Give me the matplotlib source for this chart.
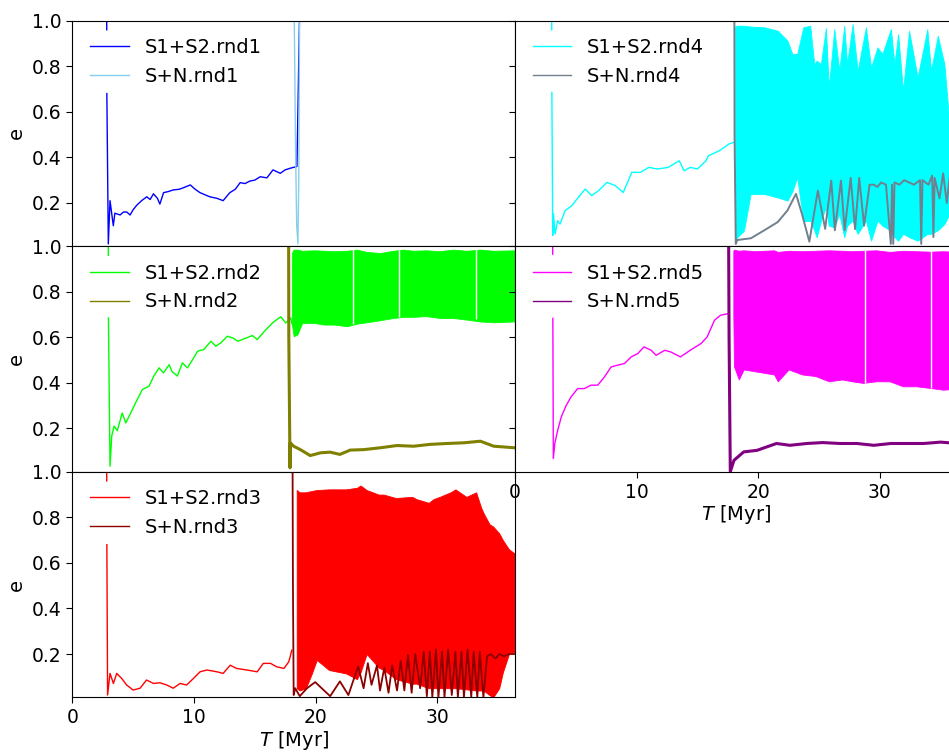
import numpy as np
import matplotlib.pyplot as plt

nan = np.nan

# ---- rnd1 ----
t1 = [2.82, 2.83, 2.83, 2.84, 2.96, 3.1, 3.37, 3.5, 3.93, 4.2, 4.48, 4.75, 5.0, 5.3, 5.7, 6.12, 6.4, 6.67,
      7.0, 7.2, 7.5, 7.9, 8.3, 8.8, 9.2, 9.7, 10.1, 10.5, 11.3, 11.9, 12.4, 12.95, 13.4, 13.8, 14.2,
      14.6, 15.0, 15.45, 16.0, 16.5, 17.1, 17.5, 17.9, 18.47, 18.74]
e1 = [1.2, 0.96, nan, 0.68, 0.02, 0.21, 0.10, 0.155, 0.147, 0.16, 0.16, 0.147, 0.17, 0.19, 0.21, 0.227,
      0.215, 0.24, 0.22, 0.195, 0.245, 0.25, 0.257, 0.26, 0.268, 0.279, 0.26, 0.245, 0.227, 0.22, 0.21,
      0.245, 0.26, 0.289, 0.285, 0.296, 0.3, 0.315, 0.31, 0.345, 0.33, 0.345, 0.352, 0.36, 1.2]
t1n = [18.2, 18.27, 18.35, 18.45, 18.55, 18.62, 18.7]
e1n = [1.2, 0.9, 0.45, 0.1, 0.02, 0.3, 1.2]

# ---- rnd2 ----
t2 = [2.95, 2.96, 2.96, 2.97, 3.1, 3.24, 3.43, 3.7, 4.1, 4.4, 4.8, 5.2, 5.76, 6.3, 6.7, 7.13, 7.5, 7.96,
      8.2, 8.64, 9.05, 9.47, 9.9, 10.3, 10.8, 11.4, 11.8, 12.2, 12.75, 13.2, 13.6, 14.3, 14.8, 15.2,
      15.8, 16.2, 16.6, 17.15, 17.55, 17.97, 18.05]
e2 = [1.2, 0.96, nan, 0.685, 0.034, 0.166, 0.21, 0.19, 0.268, 0.224, 0.268, 0.312, 0.371, 0.385, 0.43,
      0.466, 0.444, 0.48, 0.45, 0.43, 0.488, 0.466, 0.503, 0.539, 0.546, 0.583, 0.561, 0.575, 0.605,
      0.597, 0.583, 0.597, 0.608, 0.59, 0.627, 0.649, 0.67, 0.69, 0.663, 0.685, 0.66]
t2b = [18.05, 18.2, 18.5, 18.9, 19.9, 20.7, 21.5, 22.6, 23.4, 24.2, 25.3, 26.4, 27.2, 28.06, 29.1,
       30.2, 31.3, 32.4, 33.5, 34.65, 36.4]
lo2b = [0.66, 0.605, 0.612, 0.663, 0.663, 0.656, 0.656, 0.649, 0.66, 0.666, 0.675, 0.685, 0.69, 0.69,
        0.693, 0.685, 0.685, 0.678, 0.67, 0.666, 0.67]
hi2b = [0.97, 0.985, 0.985, 0.98, 0.982, 0.98, 0.978, 0.98, 0.985, 0.975, 0.97, 0.98, 0.985, 0.98,
        0.982, 0.978, 0.985, 0.98, 0.985, 0.98, 0.982]
gap2_t = [23.1, 26.9, 33.2]
gap2_lo = [0.66, 0.69, 0.68]
t2n = [17.78, 17.8, 17.9, 17.92, 18.2, 18.75, 19.56, 20.4, 21.2, 22.0, 22.85, 23.95, 25.3, 26.7, 28.06,
       29.4, 30.8, 32.2, 33.55, 34.65, 36.4]
e2n = [1.2, 0.6, 0.027, 0.137, 0.122, 0.107, 0.081, 0.093, 0.096, 0.086, 0.105, 0.107, 0.115, 0.125,
       0.122, 0.13, 0.134, 0.137, 0.144, 0.122, 0.115]

# ---- rnd3 ----
t3 = [2.82, 2.83, 2.83, 2.84, 2.9, 3.1, 3.38, 3.65, 4.06, 4.47, 5.0, 5.57, 6.1, 6.67, 7.2, 7.77, 8.3,
      8.86, 9.4, 9.96, 10.5, 11.06, 11.9, 12.4, 12.98, 13.5, 14.35, 15.2, 15.7, 16.3, 16.8, 17.4, 17.8, 18.05]
e3 = [1.2, 0.96, nan, 0.68, 0.02, 0.115, 0.071, 0.115, 0.093, 0.064, 0.042, 0.05, 0.086, 0.071, 0.074,
      0.064, 0.05, 0.071, 0.064, 0.093, 0.122, 0.13, 0.122, 0.115, 0.151, 0.137, 0.13, 0.122, 0.159,
      0.159, 0.144, 0.137, 0.166, 0.217]
t3b = [18.45, 18.7, 19.2, 19.7, 20.1, 21.1, 22.5, 23.4, 23.7, 24.2, 25.2, 25.6, 26.6, 27.95, 28.3,
       29.3, 29.7, 30.2, 31.1, 31.5, 32.4, 33.2, 33.6, 33.8, 34.3, 34.6, 35.1, 35.4, 35.9, 36.4]
hi3b = [0.92, 0.91, 0.91, 0.916, 0.92, 0.923, 0.923, 0.93, 0.94, 0.92, 0.90, 0.90, 0.885, 0.89, 0.88,
        0.864, 0.88, 0.89, 0.91, 0.923, 0.89, 0.91, 0.845, 0.82, 0.77, 0.76, 0.73, 0.70, 0.66, 0.64]
lo3b = [0.05, 0.04, 0.05, 0.115, 0.174, 0.13, 0.115, 0.09, 0.12, 0.2, 0.14, 0.13, 0.09, 0.07, 0.07,
        0.05, 0.05, 0.05, 0.05, 0.05, 0.045, 0.04, 0.04, 0.04, 0.02, 0.01, 0.05, 0.12, 0.2, 0.21]
t3n = [18.1, 18.14, 18.2, 18.33, 18.7, 19.3, 19.97, 20.6, 21.2, 22.0, 22.7, 23.5, 23.95, 24.3, 24.6,
       25.05, 25.3, 25.65, 26.0, 26.3, 26.7, 27.0, 27.3, 27.6, 27.9, 28.2, 28.6, 28.9, 29.15, 29.4, 29.6,
       29.9, 30.1, 30.4, 30.6, 30.9, 31.2, 31.5, 31.7, 32.0, 32.2, 32.5, 32.8, 33.0, 33.3, 33.5, 33.8,
       34.1, 34.4, 34.8, 35.1, 35.5, 35.9, 36.4]
e3n = [1.2, 0.5, 0.02, 0.05, 0.015, 0.05, 0.077, 0.045, 0.015, 0.08, 0.02, 0.146, 0.05, 0.16, 0.065,
       0.15, 0.04, 0.14, 0.03, 0.15, 0.04, 0.17, 0.04, 0.195, 0.03, 0.2, 0.05, 0.21, 0.015, 0.21, 0.01,
       0.22, 0.01, 0.21, 0.01, 0.22, 0.02, 0.21, 0.01, 0.21, 0.01, 0.22, 0.01, 0.21, 0.01, 0.21, 0.01,
       0.19, 0.2, 0.18, 0.2, 0.19, 0.2, 0.2]

# ---- rnd4 ----
t4 = [3.0, 3.02, 3.02, 3.03, 3.1, 3.16, 3.3, 3.5, 3.7, 4.12, 4.67, 5.2, 5.77, 6.3, 6.87, 7.56, 8.24,
      8.9, 9.6, 10.3, 11.0, 11.7, 12.6, 13.5, 13.9, 14.4, 15.0, 15.7, 15.9, 16.8, 17.6, 18.0]
e4 = [1.2, 0.96, nan, 0.685, 0.057, 0.151, 0.064, 0.122, 0.107, 0.166, 0.188, 0.224, 0.261, 0.232,
      0.254, 0.29, 0.276, 0.246, 0.334, 0.334, 0.356, 0.349, 0.356, 0.385, 0.341, 0.356, 0.349, 0.385,
      0.407, 0.429, 0.459, 0.466]
t4b = [18.1, 18.27, 18.82, 19.37, 20.5, 21.6, 22.4, 22.8, 23.2, 23.7, 24.27, 24.6, 24.8, 25.15, 25.56,
       25.8, 26.25, 26.66, 27.07, 27.3, 27.76, 28.17, 28.85, 29.27, 29.8, 30.2, 30.9, 31.2, 31.5, 31.9,
       32.4, 33.1, 33.9, 34.2, 34.76, 35.3, 35.7, 36.4]
hi4b = [0.975, 0.978, 0.978, 0.974, 0.971, 0.956, 0.912, 0.854, 0.854, 0.971, 0.978, 0.81, 0.824, 0.81,
        0.968, 0.707, 0.963, 0.78, 0.978, 0.81, 0.985, 0.78, 0.971, 0.795, 0.883, 0.854, 0.963, 0.81,
        0.941, 0.693, 0.956, 0.751, 0.963, 0.78, 0.934, 0.81, 0.56, 0.85]
lo4b = [0.03, 0.049, 0.078, 0.239, 0.239, 0.224, 0.21, 0.25, 0.312, 0.12, 0.122, 0.08, 0.049, 0.12,
        0.181, 0.1, 0.093, 0.151, 0.049, 0.1, 0.122, 0.064, 0.122, 0.034, 0.122, 0.1, 0.078, 0.05, 0.034,
        0.064, 0.05, 0.034, 0.064, 0.064, 0.08, 0.107, 0.151, 0.15]
t4n = [18.03, 18.05, 18.15, 18.27, 19.4, 20.5, 21.6, 22.4, 23.1, 23.6, 24.2, 24.9, 25.5, 26.0, 26.3,
       26.8, 27.1, 27.6, 27.96, 28.3, 28.7, 29.15, 29.5, 29.8, 30.1, 30.5, 30.9, 31.0, 31.1, 31.2, 31.6,
       32.0, 32.4, 32.8, 33.3, 33.4, 33.5, 34.0, 34.3, 34.4, 34.5, 34.9, 35.2, 35.5, 35.8, 36.1, 36.4]
e4n = [1.2, 0.5, 0.02, 0.037, 0.045, 0.08, 0.116, 0.167, 0.24, 0.15, 0.03, 0.254, 0.086, 0.298, 0.08,
       0.298, 0.08, 0.31, 0.085, 0.31, 0.1, 0.28, 0.28, 0.27, 0.29, 0.28, 0.02, 0.28, 0.02, 0.29, 0.28,
       0.3, 0.29, 0.28, 0.3, 0.02, 0.3, 0.28, 0.32, 0.05, 0.31, 0.22, 0.33, 0.2, 0.34, 0.25, 0.3]

# ---- rnd5 ----
t5 = [3.08, 3.1, 3.1, 3.11, 3.15, 3.27, 3.5, 3.8, 4.2, 4.6, 5.15, 5.7, 6.25, 6.8, 7.35, 7.9, 8.45, 9.0,
      9.55, 10.1, 10.6, 11.2, 11.6, 12.3, 12.8, 13.6, 14.4, 15.3, 15.8, 16.4, 16.9, 17.6]
e5 = [1.2, 0.965, nan, 0.683, 0.068, 0.134, 0.19, 0.25, 0.30, 0.338, 0.375, 0.375, 0.39, 0.39, 0.426,
      0.47, 0.478, 0.485, 0.514, 0.529, 0.558, 0.543, 0.521, 0.543, 0.536, 0.514, 0.543, 0.573, 0.602,
      0.675, 0.697, 0.705]
t5b = [17.95, 18.0, 18.4, 18.8, 19.7, 20.5, 21.3, 21.6, 22.5, 23.6, 24.7, 25.8, 26.9, 27.7, 28.6, 29.7,
       30.8, 31.9, 33.0, 34.1, 35.2, 36.4]
lo5b = [0.7, 0.473, 0.415, 0.459, 0.451, 0.444, 0.437, 0.407, 0.459, 0.437, 0.43, 0.407, 0.415, 0.407,
        0.40, 0.407, 0.407, 0.385, 0.385, 0.378, 0.37, 0.375]
hi5b = [0.98, 0.985, 0.98, 0.982, 0.978, 0.98, 0.982, 0.975, 0.98, 0.978, 0.98, 0.982, 0.98, 0.978,
        0.98, 0.982, 0.975, 0.98, 0.978, 0.976, 0.978, 0.975]
gap5_t = [28.8, 34.2]
gap5_lo = [0.40, 0.378]
t5n = [17.55, 17.6, 17.7, 18.0, 18.8, 19.9, 20.7, 21.5, 22.6, 24.0, 25.3, 26.7, 28.1, 29.5, 30.9, 32.2,
       33.6, 35.0, 36.4]
e5n = [1.2, 0.6, 0.01, 0.06, 0.097, 0.104, 0.119, 0.134, 0.126, 0.134, 0.138, 0.134, 0.134, 0.126,
       0.134, 0.134, 0.134, 0.14, 0.134]

fig = plt.figure(figsize=(9.49, 7.52), dpi=100)
W, H = 0.4665, 0.2999
ax1 = fig.add_axes([0.0762, 0.6726, W, H])
ax2 = fig.add_axes([0.0762, 0.3727, W, H])
ax3 = fig.add_axes([0.0762, 0.0727, W, H])
ax4 = fig.add_axes([0.5427, 0.6726, W, H])
ax5 = fig.add_axes([0.5427, 0.3727, W, H])


def panel(ax, t, e, tn, en, c1, c2, tag, lw_n, band=None, gaps=None):
    ax.plot(t, e, color=c1, lw=1.0, label='S1+S2.' + tag)
    if band is not None:
        tb, lo, hi = band
        ax.fill_between(tb, lo, hi, color=c1, lw=0.6)
    if gaps is not None:
        ax.vlines(gaps[0], gaps[1], 0.99, color='white', lw=1.0)
    ax.plot(tn, en, color=c2, lw=lw_n, label='S+N.' + tag)
    ax.set_xlim(0, 36.4)
    ax.set_ylim(0.01, 1.0)
    ax.set_yticks([0.2, 0.4, 0.6, 0.8, 1.0])
    ax.set_xticks([0, 10, 20, 30])
    ax.tick_params(direction='out', length=4.5, width=0.8, labelsize=13.5)
    leg = ax.legend(loc='upper left', frameon=False, fontsize=14, handlelength=2.0)
    for h in leg.get_lines():
        h.set_linewidth(1.0)


panel(ax1, t1, e1, t1n, e1n, 'blue', 'skyblue', 'rnd1', 1.0)
panel(ax2, t2, e2, t2n, e2n, 'lime', 'olive', 'rnd2', 2.2, (t2b, lo2b, hi2b), (gap2_t, gap2_lo))
panel(ax3, t3, e3, t3n, e3n, 'red', 'darkred', 'rnd3', 1.3, (t3b, lo3b, hi3b))
panel(ax4, t4, e4, t4n, e4n, 'cyan', 'slategray', 'rnd4', 1.4, (t4b, lo4b, hi4b))
panel(ax5, t5, e5, t5n, e5n, 'magenta', 'purple', 'rnd5', 2.2, (t5b, lo5b, hi5b), (gap5_t, gap5_lo))

for ax in (ax1, ax2, ax4):
    ax.tick_params(axis='x', length=0, labelbottom=False)
for ax in (ax4, ax5):
    ax.tick_params(axis='y', labelleft=False)
for ax in (ax1, ax2, ax3):
    ax.set_ylabel('e', fontsize=14)
for ax in (ax3, ax5):
    ax.set_xlabel('$T$ [Myr]', fontsize=14, labelpad=1)

fig.savefig('out.png', dpi=100)
